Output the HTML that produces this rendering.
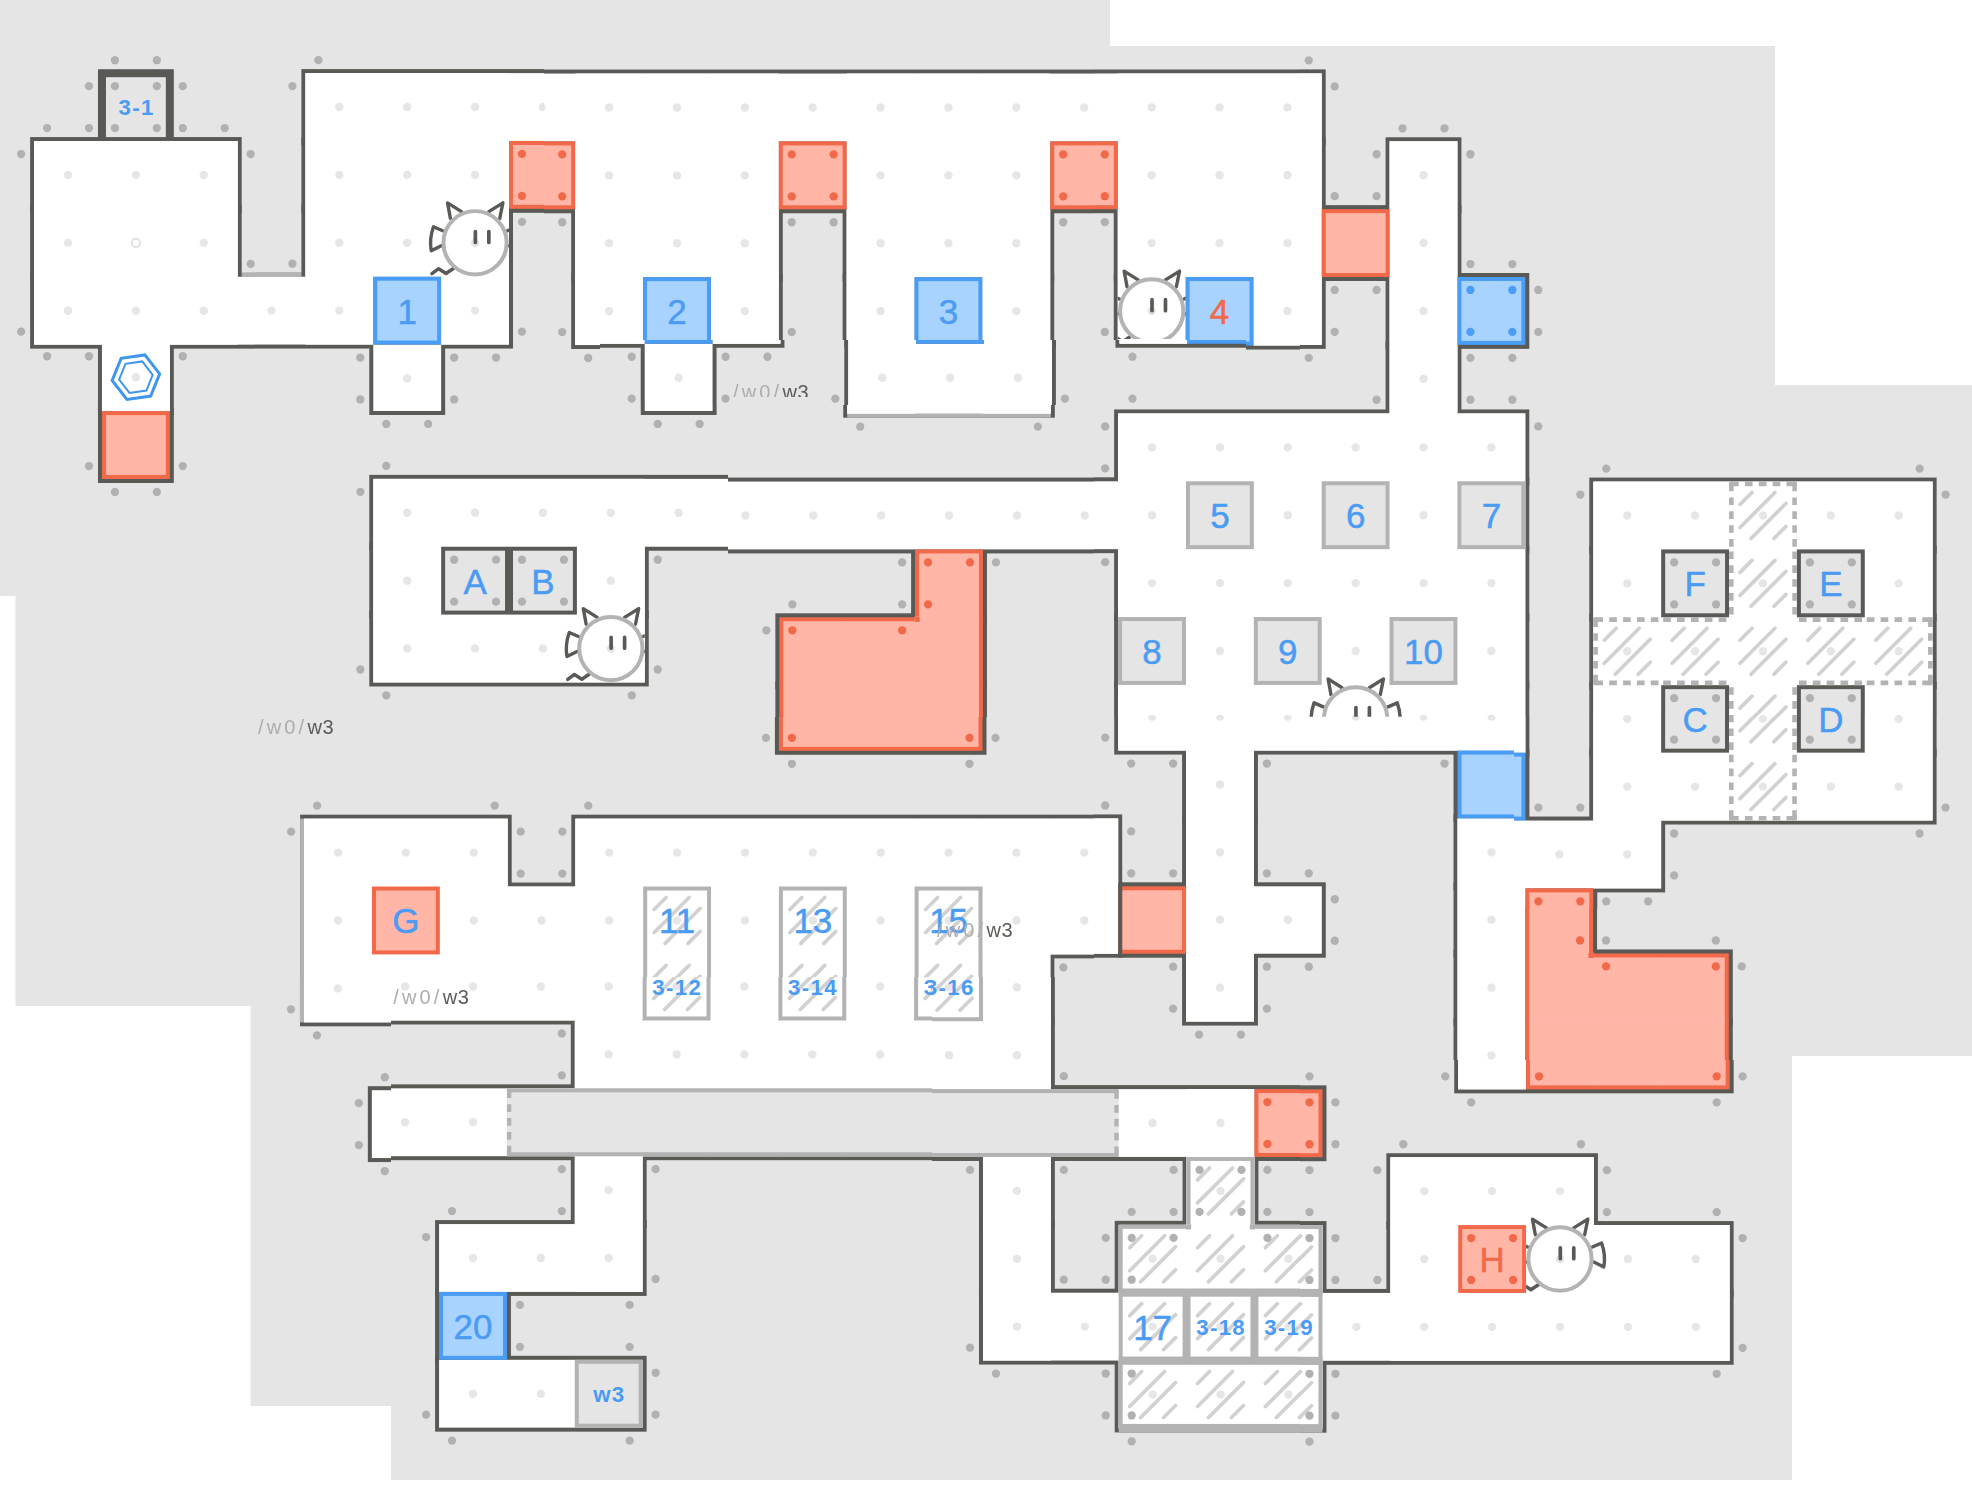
<!DOCTYPE html>
<html lang="en"><head><meta charset="utf-8"><title>World 3 map</title>
<style>html,body{margin:0;padding:0;background:#fff}svg{display:block}</style></head>
<body>
<svg width="1972" height="1486" viewBox="0 0 1972 1486">
<defs>
<g id="cat" fill="none" stroke="#595956" stroke-width="3.4" stroke-linejoin="round" stroke-linecap="round"><path d="M-24.7 -24.3L-27.6 -40L-13.6 -31.2M13.8 -31.2L27.9 -40L24.7 -24.3"/><path d="M-32.4 -12L-41.7 -16Q-46 -4 -43.9 8L-33.9 2.9"/><path d="M32.4 -12L41.7 -16Q46 -4 43.9 8L33.9 2.9"/><path d="M-43.2 31L-36.5 26L-29.1 30.8L-21.7 25.8"/><circle r="31.7" fill="none" stroke="#b3b3b3" stroke-width="4"/><path stroke-width="3.7" d="M0.3 -11.3V-0.3M13.8 -11.3V-0.3"/></g>
<clipPath id="cc0"><rect x="402" y="169" width="108" height="148"/></clipPath>
<clipPath id="cc1"><rect x="1122" y="237" width="68" height="102"/></clipPath>
<clipPath id="cc2"><rect x="538" y="577" width="108" height="108"/></clipPath>
<clipPath id="cc3"><rect x="1286" y="645" width="148" height="72"/></clipPath>
<clipPath id="cc4"><rect x="1530" y="1189" width="128" height="148"/></clipPath>
<g id="m">
<g fill="#595956">
<rect x="302" y="69" width="1028" height="76"/>
<rect x="30" y="137" width="212" height="76"/>
<rect x="302" y="137" width="1028" height="76"/>
<rect x="1390" y="137" width="76" height="76"/>
<rect x="30" y="205" width="212" height="76"/>
<rect x="302" y="205" width="212" height="76"/>
<rect x="574" y="205" width="212" height="76"/>
<rect x="846" y="205" width="212" height="76"/>
<rect x="1118" y="205" width="348" height="76"/>
<rect x="30" y="273" width="484" height="76"/>
<rect x="574" y="273" width="212" height="76"/>
<rect x="846" y="273" width="212" height="76"/>
<rect x="1118" y="273" width="212" height="76"/>
<rect x="1390" y="273" width="144" height="76"/>
<rect x="98" y="341" width="76" height="76"/>
<rect x="370" y="341" width="76" height="76"/>
<rect x="642" y="341" width="76" height="76"/>
<rect x="846" y="341" width="212" height="76"/>
<rect x="1390" y="341" width="76" height="76"/>
<rect x="98" y="409" width="76" height="76"/>
<rect x="1118" y="409" width="416" height="76"/>
<rect x="370" y="477" width="1164" height="76"/>
<rect x="1594" y="477" width="348" height="76"/>
<rect x="370" y="545" width="280" height="76"/>
<rect x="914" y="545" width="76" height="76"/>
<rect x="1118" y="545" width="416" height="76"/>
<rect x="1594" y="545" width="348" height="76"/>
<rect x="370" y="613" width="280" height="76"/>
<rect x="778" y="613" width="212" height="76"/>
<rect x="1118" y="613" width="416" height="76"/>
<rect x="1594" y="613" width="348" height="76"/>
<rect x="778" y="681" width="212" height="76"/>
<rect x="1118" y="681" width="416" height="76"/>
<rect x="1594" y="681" width="348" height="76"/>
<rect x="1186" y="749" width="76" height="76"/>
<rect x="1458" y="749" width="76" height="76"/>
<rect x="1594" y="749" width="348" height="76"/>
<rect x="302" y="817" width="212" height="76"/>
<rect x="574" y="817" width="552" height="76"/>
<rect x="1186" y="817" width="76" height="76"/>
<rect x="1458" y="817" width="212" height="76"/>
<rect x="302" y="885" width="1028" height="76"/>
<rect x="1458" y="885" width="144" height="76"/>
<rect x="302" y="953" width="756" height="76"/>
<rect x="1186" y="953" width="76" height="76"/>
<rect x="1458" y="953" width="280" height="76"/>
<rect x="574" y="1021" width="484" height="76"/>
<rect x="1458" y="1021" width="280" height="76"/>
<rect x="370" y="1089" width="960" height="76"/>
<rect x="574" y="1157" width="76" height="76"/>
<rect x="982" y="1157" width="76" height="76"/>
<rect x="1186" y="1157" width="76" height="76"/>
<rect x="1390" y="1157" width="212" height="76"/>
<rect x="438" y="1225" width="212" height="76"/>
<rect x="982" y="1225" width="76" height="76"/>
<rect x="1118" y="1225" width="212" height="76"/>
<rect x="1390" y="1225" width="348" height="76"/>
<rect x="438" y="1293" width="76" height="76"/>
<rect x="982" y="1293" width="756" height="76"/>
<rect x="438" y="1361" width="212" height="76"/>
<rect x="1118" y="1361" width="212" height="76"/>
</g>
<rect x="102" y="73" width="68" height="68" fill="#e5e5e5" stroke="#595956" stroke-width="8"/>
<rect x="242" y="273" width="60" height="4" fill="#b3b3b3"/>
<rect x="850" y="413" width="204" height="4" fill="#b3b3b3"/>
<rect x="302" y="821" width="4" height="204" fill="#b3b3b3"/>
<rect x="1122" y="1433" width="204" height="4" fill="#b3b3b3"/>
<g fill="#fff">
<rect x="306" y="73" width="1020" height="68"/>
<rect x="34" y="141" width="204" height="68"/>
<rect x="306" y="141" width="204" height="68"/>
<rect x="578" y="141" width="204" height="68"/>
<rect x="850" y="141" width="204" height="68"/>
<rect x="1122" y="141" width="204" height="68"/>
<rect x="1394" y="141" width="68" height="68"/>
<rect x="34" y="209" width="204" height="68"/>
<rect x="306" y="209" width="204" height="68"/>
<rect x="578" y="209" width="204" height="68"/>
<rect x="850" y="209" width="204" height="68"/>
<rect x="1122" y="209" width="204" height="68"/>
<rect x="1394" y="209" width="68" height="68"/>
<rect x="34" y="277" width="340" height="68"/>
<rect x="442" y="277" width="68" height="68"/>
<rect x="578" y="277" width="68" height="68"/>
<rect x="714" y="277" width="68" height="68"/>
<rect x="850" y="277" width="68" height="68"/>
<rect x="986" y="277" width="68" height="68"/>
<rect x="1122" y="277" width="68" height="68"/>
<rect x="1258" y="277" width="68" height="68"/>
<rect x="1394" y="277" width="68" height="68"/>
<rect x="102" y="345" width="68" height="68"/>
<rect x="374" y="345" width="68" height="68"/>
<rect x="646" y="345" width="68" height="68"/>
<rect x="850" y="345" width="204" height="68"/>
<rect x="1394" y="345" width="68" height="68"/>
<rect x="1122" y="413" width="408" height="68"/>
<rect x="374" y="481" width="1156" height="68"/>
<rect x="1598" y="481" width="340" height="68"/>
<rect x="374" y="549" width="272" height="68"/>
<rect x="1122" y="549" width="408" height="68"/>
<rect x="1598" y="549" width="340" height="68"/>
<rect x="374" y="617" width="272" height="68"/>
<rect x="1122" y="617" width="408" height="68"/>
<rect x="1598" y="617" width="340" height="68"/>
<rect x="1122" y="685" width="408" height="68"/>
<rect x="1598" y="685" width="340" height="68"/>
<rect x="1190" y="753" width="68" height="68"/>
<rect x="1598" y="753" width="340" height="68"/>
<rect x="306" y="821" width="204" height="68"/>
<rect x="578" y="821" width="544" height="68"/>
<rect x="1190" y="821" width="68" height="68"/>
<rect x="1462" y="821" width="204" height="68"/>
<rect x="306" y="889" width="816" height="68"/>
<rect x="1190" y="889" width="136" height="68"/>
<rect x="1462" y="889" width="68" height="68"/>
<rect x="306" y="957" width="748" height="68"/>
<rect x="1190" y="957" width="68" height="68"/>
<rect x="1462" y="957" width="68" height="68"/>
<rect x="578" y="1025" width="476" height="68"/>
<rect x="1462" y="1025" width="68" height="68"/>
<rect x="374" y="1093" width="884" height="68"/>
<rect x="578" y="1161" width="68" height="68"/>
<rect x="986" y="1161" width="68" height="68"/>
<rect x="1190" y="1161" width="68" height="68"/>
<rect x="1394" y="1161" width="204" height="68"/>
<rect x="442" y="1229" width="204" height="68"/>
<rect x="986" y="1229" width="68" height="68"/>
<rect x="1122" y="1229" width="204" height="68"/>
<rect x="1394" y="1229" width="340" height="68"/>
<rect x="986" y="1297" width="748" height="68"/>
<rect x="442" y="1365" width="204" height="68"/>
<rect x="1122" y="1365" width="204" height="68"/>
<rect x="34" y="141" width="68" height="204"/>
<rect x="102" y="141" width="68" height="272"/>
<rect x="170" y="141" width="68" height="204"/>
<rect x="306" y="73" width="68" height="272"/>
<rect x="306" y="821" width="68" height="204"/>
<rect x="374" y="73" width="68" height="204"/>
<rect x="374" y="481" width="68" height="204"/>
<rect x="374" y="821" width="68" height="204"/>
<rect x="442" y="73" width="68" height="272"/>
<rect x="442" y="481" width="68" height="204"/>
<rect x="442" y="821" width="68" height="204"/>
<rect x="510" y="481" width="68" height="204"/>
<rect x="510" y="889" width="68" height="136"/>
<rect x="578" y="73" width="68" height="272"/>
<rect x="578" y="481" width="68" height="204"/>
<rect x="578" y="821" width="68" height="476"/>
<rect x="646" y="73" width="68" height="204"/>
<rect x="646" y="821" width="68" height="340"/>
<rect x="714" y="73" width="68" height="272"/>
<rect x="714" y="821" width="68" height="340"/>
<rect x="782" y="821" width="68" height="340"/>
<rect x="850" y="73" width="68" height="340"/>
<rect x="850" y="821" width="68" height="340"/>
<rect x="918" y="73" width="68" height="204"/>
<rect x="918" y="821" width="68" height="340"/>
<rect x="986" y="73" width="68" height="340"/>
<rect x="986" y="821" width="68" height="544"/>
<rect x="1054" y="821" width="68" height="136"/>
<rect x="1122" y="73" width="68" height="272"/>
<rect x="1122" y="413" width="68" height="340"/>
<rect x="1122" y="1229" width="68" height="204"/>
<rect x="1190" y="73" width="68" height="204"/>
<rect x="1190" y="413" width="68" height="612"/>
<rect x="1190" y="1093" width="68" height="340"/>
<rect x="1258" y="73" width="68" height="272"/>
<rect x="1258" y="413" width="68" height="340"/>
<rect x="1258" y="1229" width="68" height="204"/>
<rect x="1326" y="413" width="68" height="340"/>
<rect x="1394" y="141" width="68" height="612"/>
<rect x="1394" y="1161" width="68" height="204"/>
<rect x="1462" y="413" width="68" height="340"/>
<rect x="1462" y="821" width="68" height="272"/>
<rect x="1462" y="1161" width="68" height="204"/>
<rect x="1530" y="1161" width="68" height="204"/>
<rect x="1598" y="481" width="68" height="408"/>
<rect x="1598" y="1229" width="68" height="136"/>
<rect x="1666" y="481" width="68" height="340"/>
<rect x="1666" y="1229" width="68" height="136"/>
<rect x="1734" y="481" width="68" height="340"/>
<rect x="1802" y="481" width="68" height="340"/>
<rect x="1870" y="481" width="68" height="340"/>
</g>
<g fill="#f2694a">
<rect x="510" y="141" width="68" height="68"/>
<rect x="782" y="141" width="68" height="68"/>
<rect x="1054" y="141" width="68" height="68"/>
<rect x="1326" y="209" width="68" height="68"/>
<rect x="102" y="413" width="68" height="68"/>
<rect x="918" y="549" width="68" height="68.6"/>
<rect x="782" y="617" width="68.6" height="68.6"/>
<rect x="850" y="617" width="68.6" height="68.6"/>
<rect x="918" y="617" width="68" height="68.6"/>
<rect x="782" y="685" width="68.6" height="68"/>
<rect x="850" y="685" width="68.6" height="68"/>
<rect x="918" y="685" width="68" height="68"/>
<rect x="1122" y="889" width="68" height="68"/>
<rect x="1530" y="889" width="68" height="68.6"/>
<rect x="1530" y="957" width="68.6" height="68.6"/>
<rect x="1598" y="957" width="68.6" height="68.6"/>
<rect x="1666" y="957" width="68" height="68.6"/>
<rect x="1530" y="1025" width="68.6" height="68"/>
<rect x="1598" y="1025" width="68.6" height="68"/>
<rect x="1666" y="1025" width="68" height="68"/>
<rect x="1258" y="1093" width="68" height="68"/>
</g>
<g fill="#ffb6a7">
<rect x="514" y="145" width="60" height="60"/>
<rect x="786" y="145" width="60" height="60"/>
<rect x="1058" y="145" width="60" height="60"/>
<rect x="1330" y="213" width="60" height="60"/>
<rect x="106" y="417" width="60" height="60"/>
<rect x="922" y="553" width="60" height="64.6"/>
<rect x="786" y="621" width="64.6" height="64.6"/>
<rect x="849.4" y="621" width="69.2" height="64.6"/>
<rect x="917.4" y="616.4" width="64.6" height="69.2"/>
<rect x="786" y="684.4" width="64.6" height="64.6"/>
<rect x="849.4" y="684.4" width="69.2" height="64.6"/>
<rect x="917.4" y="684.4" width="64.6" height="64.6"/>
<rect x="1126" y="893" width="60" height="60"/>
<rect x="1534" y="893" width="60" height="64.6"/>
<rect x="1534" y="956.4" width="64.6" height="69.2"/>
<rect x="1597.4" y="961" width="69.2" height="64.6"/>
<rect x="1665.4" y="961" width="64.6" height="64.6"/>
<rect x="1534" y="1024.4" width="64.6" height="64.6"/>
<rect x="1597.4" y="1024.4" width="69.2" height="64.6"/>
<rect x="1665.4" y="1024.4" width="64.6" height="64.6"/>
<rect x="1262" y="1097" width="60" height="60"/>
</g>
<g fill="#f2694a">
<rect x="917.4" y="616.4" width="5.2" height="5.2"/>
<rect x="1593.4" y="956.4" width="5.2" height="5.2"/>
</g>
<g fill="#4a9df6">
<rect x="374" y="277" width="68" height="68"/>
<rect x="646" y="277" width="68" height="68"/>
<rect x="918" y="277" width="68" height="68"/>
<rect x="1190" y="277" width="68" height="68"/>
<rect x="1462" y="277" width="68" height="68"/>
<rect x="1462" y="753" width="68" height="68"/>
<rect x="442" y="1297" width="68" height="68"/>
</g>
<g fill="#a9d3ff">
<rect x="378" y="281" width="60" height="60"/>
<rect x="650" y="281" width="60" height="60"/>
<rect x="922" y="281" width="60" height="60"/>
<rect x="1194" y="281" width="60" height="60"/>
<rect x="1466" y="281" width="60" height="60"/>
<rect x="1466" y="757" width="60" height="60"/>
<rect x="446" y="1301" width="60" height="60"/>
</g>
<g fill="#4a9df6">
</g>
<rect x="1122" y="885" width="4" height="76" fill="#595956"/>
<g fill="#b3b3b3">
<rect x="1190" y="1161" width="68" height="68.6"/>
<rect x="1122" y="1229" width="68.6" height="68"/>
<rect x="1190" y="1229" width="68.6" height="68"/>
<rect x="1258" y="1229" width="68" height="68"/>
</g>
<g fill="#fff">
<rect x="1194" y="1165" width="60" height="64.6"/>
<rect x="1126" y="1233" width="64.6" height="60"/>
<rect x="1189.4" y="1228.4" width="69.2" height="64.6"/>
<rect x="1257.4" y="1233" width="64.6" height="60"/>
</g>
<g fill="#b3b3b3">
<rect x="1189.4" y="1228.4" width="5.2" height="5.2"/>
<rect x="1253.4" y="1228.4" width="5.2" height="5.2"/>
</g>
<g fill="#b3b3b3">
<rect x="1122" y="1365" width="68.6" height="68"/>
<rect x="1190" y="1365" width="68.6" height="68"/>
<rect x="1258" y="1365" width="68" height="68"/>
</g>
<g fill="#fff">
<rect x="1126" y="1369" width="64.6" height="60"/>
<rect x="1189.4" y="1369" width="69.2" height="60"/>
<rect x="1257.4" y="1369" width="64.6" height="60"/>
</g>
<g fill="#b3b3b3">
</g>
<path d="M1201 1184L1213 1172M1201 1207L1236 1172M1212 1218L1247 1183M1235 1218L1247 1206M1133 1252L1145 1240M1133 1275L1168 1240M1144 1286L1179 1251M1167 1286L1179 1274M1201 1252L1213 1240M1201 1275L1236 1240M1212 1286L1247 1251M1235 1286L1247 1274M1269 1252L1281 1240M1269 1275L1304 1240M1280 1286L1315 1251M1303 1286L1315 1274M1133 1320L1145 1308M1133 1343L1168 1308M1144 1354L1179 1319M1167 1354L1179 1342M1201 1320L1213 1308M1201 1343L1236 1308M1212 1354L1247 1319M1235 1354L1247 1342M1269 1320L1281 1308M1269 1343L1304 1308M1280 1354L1315 1319M1303 1354L1315 1342M1133 1388L1145 1376M1133 1411L1168 1376M1144 1422L1179 1387M1167 1422L1179 1410M1201 1388L1213 1376M1201 1411L1236 1376M1212 1422L1247 1387M1235 1422L1247 1410M1269 1388L1281 1376M1269 1411L1304 1376M1280 1422L1315 1387M1303 1422L1315 1410M1745 504L1757 492M1745 527L1780 492M1756 538L1791 503M1779 538L1791 526M1745 572L1757 560M1745 595L1780 560M1756 606L1791 571M1779 606L1791 594M1745 640L1757 628M1745 663L1780 628M1756 674L1791 639M1779 674L1791 662M1745 708L1757 696M1745 731L1780 696M1756 742L1791 707M1779 742L1791 730M1745 776L1757 764M1745 799L1780 764M1756 810L1791 775M1779 810L1791 798M1609 640L1621 628M1609 663L1644 628M1620 674L1655 639M1643 674L1655 662M1677 640L1689 628M1677 663L1712 628M1688 674L1723 639M1711 674L1723 662M1813 640L1825 628M1813 663L1848 628M1824 674L1859 639M1847 674L1859 662M1881 640L1893 628M1881 663L1916 628M1892 674L1927 639M1915 674L1927 662M657 912L669 900M657 935L692 900M668 946L703 911M691 946L703 934M657 980L669 968M657 1003L692 968M668 1014L703 979M691 1014L703 1002M793 912L805 900M793 935L828 900M804 946L839 911M827 946L839 934M793 980L805 968M793 1003L828 968M804 1014L839 979M827 1014L839 1002M929 912L941 900M929 935L964 900M940 946L975 911M963 946L975 934M929 980L941 968M929 1003L964 968M940 1014L975 979M963 1014L975 1002" stroke="#d1d1d1" stroke-width="3.7" stroke-linecap="round" fill="none"/>
<g fill="#e6e6e6">
<circle cx="68" cy="175" r="4.2"/>
<circle cx="68" cy="243" r="4.2"/>
<circle cx="68" cy="311" r="4.2"/>
<circle cx="136" cy="175" r="4.2"/>
<circle cx="136" cy="243" r="4.2"/>
<circle cx="136" cy="311" r="4.2"/>
<circle cx="204" cy="175" r="4.2"/>
<circle cx="204" cy="243" r="4.2"/>
<circle cx="204" cy="311" r="4.2"/>
<circle cx="272" cy="311" r="4.2"/>
<circle cx="340" cy="107" r="4.2"/>
<circle cx="340" cy="175" r="4.2"/>
<circle cx="340" cy="243" r="4.2"/>
<circle cx="340" cy="311" r="4.2"/>
<circle cx="340" cy="855" r="4.2"/>
<circle cx="340" cy="923" r="4.2"/>
<circle cx="340" cy="991" r="4.2"/>
<circle cx="408" cy="107" r="4.2"/>
<circle cx="408" cy="175" r="4.2"/>
<circle cx="408" cy="243" r="4.2"/>
<circle cx="408" cy="379" r="4.2"/>
<circle cx="408" cy="515" r="4.2"/>
<circle cx="408" cy="583" r="4.2"/>
<circle cx="408" cy="651" r="4.2"/>
<circle cx="408" cy="855" r="4.2"/>
<circle cx="408" cy="991" r="4.2"/>
<circle cx="408" cy="1127" r="4.2"/>
<circle cx="476" cy="107" r="4.2"/>
<circle cx="476" cy="175" r="4.2"/>
<circle cx="476" cy="243" r="4.2"/>
<circle cx="476" cy="311" r="4.2"/>
<circle cx="476" cy="515" r="4.2"/>
<circle cx="476" cy="651" r="4.2"/>
<circle cx="476" cy="855" r="4.2"/>
<circle cx="476" cy="923" r="4.2"/>
<circle cx="476" cy="991" r="4.2"/>
<circle cx="476" cy="1127" r="4.2"/>
<circle cx="476" cy="1263" r="4.2"/>
<circle cx="476" cy="1399" r="4.2"/>
<circle cx="544" cy="107" r="4.2"/>
<circle cx="544" cy="515" r="4.2"/>
<circle cx="544" cy="651" r="4.2"/>
<circle cx="544" cy="923" r="4.2"/>
<circle cx="544" cy="991" r="4.2"/>
<circle cx="544" cy="1263" r="4.2"/>
<circle cx="544" cy="1399" r="4.2"/>
<circle cx="612" cy="107" r="4.2"/>
<circle cx="612" cy="175" r="4.2"/>
<circle cx="612" cy="243" r="4.2"/>
<circle cx="612" cy="311" r="4.2"/>
<circle cx="612" cy="515" r="4.2"/>
<circle cx="612" cy="583" r="4.2"/>
<circle cx="612" cy="651" r="4.2"/>
<circle cx="612" cy="855" r="4.2"/>
<circle cx="612" cy="923" r="4.2"/>
<circle cx="612" cy="991" r="4.2"/>
<circle cx="612" cy="1059" r="4.2"/>
<circle cx="612" cy="1195" r="4.2"/>
<circle cx="612" cy="1263" r="4.2"/>
<circle cx="680" cy="107" r="4.2"/>
<circle cx="680" cy="175" r="4.2"/>
<circle cx="680" cy="243" r="4.2"/>
<circle cx="680" cy="379" r="4.2"/>
<circle cx="680" cy="515" r="4.2"/>
<circle cx="680" cy="855" r="4.2"/>
<circle cx="680" cy="923" r="4.2"/>
<circle cx="680" cy="991" r="4.2"/>
<circle cx="680" cy="1059" r="4.2"/>
<circle cx="748" cy="107" r="4.2"/>
<circle cx="748" cy="175" r="4.2"/>
<circle cx="748" cy="243" r="4.2"/>
<circle cx="748" cy="311" r="4.2"/>
<circle cx="748" cy="515" r="4.2"/>
<circle cx="748" cy="855" r="4.2"/>
<circle cx="748" cy="923" r="4.2"/>
<circle cx="748" cy="991" r="4.2"/>
<circle cx="748" cy="1059" r="4.2"/>
<circle cx="816" cy="107" r="4.2"/>
<circle cx="816" cy="515" r="4.2"/>
<circle cx="816" cy="855" r="4.2"/>
<circle cx="816" cy="923" r="4.2"/>
<circle cx="816" cy="991" r="4.2"/>
<circle cx="816" cy="1059" r="4.2"/>
<circle cx="884" cy="107" r="4.2"/>
<circle cx="884" cy="175" r="4.2"/>
<circle cx="884" cy="243" r="4.2"/>
<circle cx="884" cy="311" r="4.2"/>
<circle cx="884" cy="379" r="4.2"/>
<circle cx="884" cy="515" r="4.2"/>
<circle cx="884" cy="855" r="4.2"/>
<circle cx="884" cy="923" r="4.2"/>
<circle cx="884" cy="991" r="4.2"/>
<circle cx="884" cy="1059" r="4.2"/>
<circle cx="952" cy="107" r="4.2"/>
<circle cx="952" cy="175" r="4.2"/>
<circle cx="952" cy="243" r="4.2"/>
<circle cx="952" cy="379" r="4.2"/>
<circle cx="952" cy="515" r="4.2"/>
<circle cx="952" cy="855" r="4.2"/>
<circle cx="952" cy="923" r="4.2"/>
<circle cx="952" cy="991" r="4.2"/>
<circle cx="952" cy="1059" r="4.2"/>
<circle cx="1020" cy="107" r="4.2"/>
<circle cx="1020" cy="175" r="4.2"/>
<circle cx="1020" cy="243" r="4.2"/>
<circle cx="1020" cy="311" r="4.2"/>
<circle cx="1020" cy="379" r="4.2"/>
<circle cx="1020" cy="515" r="4.2"/>
<circle cx="1020" cy="855" r="4.2"/>
<circle cx="1020" cy="923" r="4.2"/>
<circle cx="1020" cy="991" r="4.2"/>
<circle cx="1020" cy="1059" r="4.2"/>
<circle cx="1020" cy="1195" r="4.2"/>
<circle cx="1020" cy="1263" r="4.2"/>
<circle cx="1020" cy="1331" r="4.2"/>
<circle cx="1088" cy="107" r="4.2"/>
<circle cx="1088" cy="515" r="4.2"/>
<circle cx="1088" cy="855" r="4.2"/>
<circle cx="1088" cy="923" r="4.2"/>
<circle cx="1088" cy="1331" r="4.2"/>
<circle cx="1156" cy="107" r="4.2"/>
<circle cx="1156" cy="175" r="4.2"/>
<circle cx="1156" cy="243" r="4.2"/>
<circle cx="1156" cy="311" r="4.2"/>
<circle cx="1156" cy="447" r="4.2"/>
<circle cx="1156" cy="515" r="4.2"/>
<circle cx="1156" cy="583" r="4.2"/>
<circle cx="1156" cy="719" r="4.2"/>
<circle cx="1156" cy="1127" r="4.2"/>
<circle cx="1156" cy="1263" r="4.2"/>
<circle cx="1156" cy="1331" r="4.2"/>
<circle cx="1156" cy="1399" r="4.2"/>
<circle cx="1224" cy="107" r="4.2"/>
<circle cx="1224" cy="175" r="4.2"/>
<circle cx="1224" cy="243" r="4.2"/>
<circle cx="1224" cy="447" r="4.2"/>
<circle cx="1224" cy="583" r="4.2"/>
<circle cx="1224" cy="651" r="4.2"/>
<circle cx="1224" cy="719" r="4.2"/>
<circle cx="1224" cy="787" r="4.2"/>
<circle cx="1224" cy="855" r="4.2"/>
<circle cx="1224" cy="923" r="4.2"/>
<circle cx="1224" cy="991" r="4.2"/>
<circle cx="1224" cy="1127" r="4.2"/>
<circle cx="1224" cy="1195" r="4.2"/>
<circle cx="1224" cy="1263" r="4.2"/>
<circle cx="1224" cy="1331" r="4.2"/>
<circle cx="1224" cy="1399" r="4.2"/>
<circle cx="1292" cy="107" r="4.2"/>
<circle cx="1292" cy="175" r="4.2"/>
<circle cx="1292" cy="243" r="4.2"/>
<circle cx="1292" cy="311" r="4.2"/>
<circle cx="1292" cy="447" r="4.2"/>
<circle cx="1292" cy="515" r="4.2"/>
<circle cx="1292" cy="583" r="4.2"/>
<circle cx="1292" cy="719" r="4.2"/>
<circle cx="1292" cy="923" r="4.2"/>
<circle cx="1292" cy="1263" r="4.2"/>
<circle cx="1292" cy="1331" r="4.2"/>
<circle cx="1292" cy="1399" r="4.2"/>
<circle cx="1360" cy="447" r="4.2"/>
<circle cx="1360" cy="583" r="4.2"/>
<circle cx="1360" cy="651" r="4.2"/>
<circle cx="1360" cy="719" r="4.2"/>
<circle cx="1360" cy="1331" r="4.2"/>
<circle cx="1428" cy="175" r="4.2"/>
<circle cx="1428" cy="243" r="4.2"/>
<circle cx="1428" cy="311" r="4.2"/>
<circle cx="1428" cy="379" r="4.2"/>
<circle cx="1428" cy="447" r="4.2"/>
<circle cx="1428" cy="515" r="4.2"/>
<circle cx="1428" cy="583" r="4.2"/>
<circle cx="1428" cy="719" r="4.2"/>
<circle cx="1428" cy="1195" r="4.2"/>
<circle cx="1428" cy="1263" r="4.2"/>
<circle cx="1428" cy="1331" r="4.2"/>
<circle cx="1496" cy="447" r="4.2"/>
<circle cx="1496" cy="583" r="4.2"/>
<circle cx="1496" cy="651" r="4.2"/>
<circle cx="1496" cy="719" r="4.2"/>
<circle cx="1496" cy="855" r="4.2"/>
<circle cx="1496" cy="923" r="4.2"/>
<circle cx="1496" cy="991" r="4.2"/>
<circle cx="1496" cy="1059" r="4.2"/>
<circle cx="1496" cy="1195" r="4.2"/>
<circle cx="1496" cy="1331" r="4.2"/>
<circle cx="1564" cy="855" r="4.2"/>
<circle cx="1564" cy="1195" r="4.2"/>
<circle cx="1564" cy="1263" r="4.2"/>
<circle cx="1564" cy="1331" r="4.2"/>
<circle cx="1632" cy="515" r="4.2"/>
<circle cx="1632" cy="583" r="4.2"/>
<circle cx="1632" cy="651" r="4.2"/>
<circle cx="1632" cy="719" r="4.2"/>
<circle cx="1632" cy="787" r="4.2"/>
<circle cx="1632" cy="855" r="4.2"/>
<circle cx="1632" cy="1263" r="4.2"/>
<circle cx="1632" cy="1331" r="4.2"/>
<circle cx="1700" cy="515" r="4.2"/>
<circle cx="1700" cy="651" r="4.2"/>
<circle cx="1700" cy="787" r="4.2"/>
<circle cx="1700" cy="1263" r="4.2"/>
<circle cx="1700" cy="1331" r="4.2"/>
<circle cx="1768" cy="515" r="4.2"/>
<circle cx="1768" cy="583" r="4.2"/>
<circle cx="1768" cy="651" r="4.2"/>
<circle cx="1768" cy="719" r="4.2"/>
<circle cx="1768" cy="787" r="4.2"/>
<circle cx="1836" cy="515" r="4.2"/>
<circle cx="1836" cy="651" r="4.2"/>
<circle cx="1836" cy="787" r="4.2"/>
<circle cx="1904" cy="515" r="4.2"/>
<circle cx="1904" cy="583" r="4.2"/>
<circle cx="1904" cy="651" r="4.2"/>
<circle cx="1904" cy="719" r="4.2"/>
<circle cx="1904" cy="787" r="4.2"/>
</g>
<circle cx="136" cy="243" r="4.2" fill="#fff" stroke="#dedede" stroke-width="1.7"/>
<circle cx="136" cy="379" r="4.2" fill="#e6e6e6"/>
<g clip-path="url(#cc0)"><use href="#cat" x="476" y="243"/></g>
<g clip-path="url(#cc1)"><use href="#cat" x="1156" y="311"/></g>
<g clip-path="url(#cc2)"><use href="#cat" x="612" y="651"/></g>
<g clip-path="url(#cc3)"><use href="#cat" x="1360" y="719"/></g>
<g clip-path="url(#cc4)"><use href="#cat" x="1564" y="1263"/></g>
<rect x="1192" y="483" width="64" height="64" fill="#e5e5e5" stroke="#b3b3b3" stroke-width="4"/>
<rect x="1328" y="483" width="64" height="64" fill="#e5e5e5" stroke="#b3b3b3" stroke-width="4"/>
<rect x="1464" y="483" width="64" height="64" fill="#e5e5e5" stroke="#b3b3b3" stroke-width="4"/>
<rect x="1124" y="619" width="64" height="64" fill="#e5e5e5" stroke="#b3b3b3" stroke-width="4"/>
<rect x="1260" y="619" width="64" height="64" fill="#e5e5e5" stroke="#b3b3b3" stroke-width="4"/>
<rect x="1396" y="619" width="64" height="64" fill="#e5e5e5" stroke="#b3b3b3" stroke-width="4"/>
<rect x="580" y="1367" width="64" height="64" fill="#e5e5e5" stroke="#b3b3b3" stroke-width="4"/>
<rect x="444" y="551" width="64" height="64" fill="#e5e5e5" stroke="#595956" stroke-width="4"/>
<rect x="512" y="551" width="64" height="64" fill="#e5e5e5" stroke="#595956" stroke-width="4"/>
<rect x="1668" y="551" width="64" height="64" fill="#e5e5e5" stroke="#595956" stroke-width="4"/>
<rect x="1804" y="551" width="64" height="64" fill="#e5e5e5" stroke="#595956" stroke-width="4"/>
<rect x="1668" y="687" width="64" height="64" fill="#e5e5e5" stroke="#595956" stroke-width="4"/>
<rect x="1804" y="687" width="64" height="64" fill="#e5e5e5" stroke="#595956" stroke-width="4"/>
<rect x="376" y="891" width="64" height="64" fill="#ffb6a7" stroke="#f2694a" stroke-width="4"/>
<rect x="1464" y="1231" width="64" height="64" fill="#ffb6a7" stroke="#f2694a" stroke-width="4"/>
<rect x="510" y="1093" width="612" height="68" fill="#e5e5e5"/>
<rect x="510" y="1093" width="612" height="4" fill="#b3b3b3"/>
<rect x="510" y="1157" width="612" height="4" fill="#b3b3b3"/>
<path d="M512.2 1093V1161M1119.8 1093V1161" stroke="#b3b3b3" stroke-width="4.4" stroke-dasharray="7.7 6.2" stroke-dashoffset="-2" fill="none"/>
<rect x="648" y="891" width="64" height="132" fill="none" stroke="#b3b3b3" stroke-width="4"/>
<rect x="784" y="891" width="64" height="132" fill="none" stroke="#b3b3b3" stroke-width="4"/>
<rect x="920" y="891" width="64" height="132" fill="none" stroke="#b3b3b3" stroke-width="4"/>
<rect x="1122" y="1293" width="204" height="8" fill="#b3b3b3"/>
<rect x="1122" y="1361" width="204" height="8" fill="#b3b3b3"/>
<rect x="1122" y="1297" width="4" height="68" fill="#b3b3b3"/>
<rect x="1322" y="1297" width="4" height="68" fill="#b3b3b3"/>
<rect x="1186" y="1297" width="8" height="68" fill="#b3b3b3"/>
<rect x="1254" y="1297" width="8" height="68" fill="#b3b3b3"/>
<rect x="1122" y="1428.5" width="204" height="5" fill="#b3b3b3"/>
<g fill="#b3b3b3">
<rect x="1598" y="617" width="4.6" height="4.6"/>
<rect x="1598" y="680.4" width="4.6" height="4.6"/>
<rect x="1734" y="481" width="4.6" height="4.6"/>
<rect x="1797.4" y="481" width="4.6" height="4.6"/>
<rect x="1734" y="816.4" width="4.6" height="4.6"/>
<rect x="1797.4" y="816.4" width="4.6" height="4.6"/>
<rect x="1933.4" y="617" width="4.6" height="4.6"/>
<rect x="1933.4" y="680.4" width="4.6" height="4.6"/>
</g>
<path d="M1598 619.3H1666M1598 682.7H1666M1600.3 617V685M1666 619.3H1734M1666 682.7H1734M1734 483.3H1802M1736.3 481V549M1799.7 481V549M1736.3 549V617M1799.7 549V617M1736.3 685V753M1799.7 685V753M1734 818.7H1802M1736.3 753V821M1799.7 753V821M1802 619.3H1870M1802 682.7H1870M1870 619.3H1938M1870 682.7H1938M1935.7 617V685" stroke="#b3b3b3" stroke-width="4.6" stroke-dasharray="7.7 6.2" stroke-dashoffset="-2" fill="none"/>
<g fill="#b1b1b1">
<circle cx="21" cy="154" r="4.15"/>
<circle cx="21" cy="332" r="4.15"/>
<circle cx="47" cy="128" r="4.15"/>
<circle cx="47" cy="358" r="4.15"/>
<circle cx="89" cy="86" r="4.15"/>
<circle cx="89" cy="128" r="4.15"/>
<circle cx="89" cy="358" r="4.15"/>
<circle cx="89" cy="468" r="4.15"/>
<circle cx="115" cy="60" r="4.15"/>
<circle cx="115" cy="494" r="4.15"/>
<circle cx="157" cy="60" r="4.15"/>
<circle cx="157" cy="494" r="4.15"/>
<circle cx="183" cy="86" r="4.15"/>
<circle cx="183" cy="128" r="4.15"/>
<circle cx="183" cy="358" r="4.15"/>
<circle cx="183" cy="468" r="4.15"/>
<circle cx="225" cy="128" r="4.15"/>
<circle cx="251" cy="154" r="4.15"/>
<circle cx="251" cy="264" r="4.15"/>
<circle cx="293" cy="86" r="4.15"/>
<circle cx="293" cy="264" r="4.15"/>
<circle cx="293" cy="834" r="4.15"/>
<circle cx="293" cy="1012" r="4.15"/>
<circle cx="319" cy="60" r="4.15"/>
<circle cx="319" cy="808" r="4.15"/>
<circle cx="319" cy="1038" r="4.15"/>
<circle cx="361" cy="358" r="4.15"/>
<circle cx="361" cy="400" r="4.15"/>
<circle cx="361" cy="494" r="4.15"/>
<circle cx="361" cy="672" r="4.15"/>
<circle cx="361" cy="1106" r="4.15"/>
<circle cx="361" cy="1148" r="4.15"/>
<circle cx="387" cy="426" r="4.15"/>
<circle cx="387" cy="468" r="4.15"/>
<circle cx="387" cy="698" r="4.15"/>
<circle cx="387" cy="1080" r="4.15"/>
<circle cx="387" cy="1174" r="4.15"/>
<circle cx="429" cy="426" r="4.15"/>
<circle cx="429" cy="1242" r="4.15"/>
<circle cx="429" cy="1420" r="4.15"/>
<circle cx="455" cy="358" r="4.15"/>
<circle cx="455" cy="400" r="4.15"/>
<circle cx="455" cy="1216" r="4.15"/>
<circle cx="455" cy="1446" r="4.15"/>
<circle cx="497" cy="358" r="4.15"/>
<circle cx="497" cy="808" r="4.15"/>
<circle cx="523" cy="222" r="4.15"/>
<circle cx="523" cy="332" r="4.15"/>
<circle cx="523" cy="834" r="4.15"/>
<circle cx="523" cy="876" r="4.15"/>
<circle cx="523" cy="1310" r="4.15"/>
<circle cx="523" cy="1352" r="4.15"/>
<circle cx="565" cy="222" r="4.15"/>
<circle cx="565" cy="332" r="4.15"/>
<circle cx="565" cy="834" r="4.15"/>
<circle cx="565" cy="876" r="4.15"/>
<circle cx="565" cy="1038" r="4.15"/>
<circle cx="565" cy="1080" r="4.15"/>
<circle cx="565" cy="1174" r="4.15"/>
<circle cx="565" cy="1216" r="4.15"/>
<circle cx="591" cy="358" r="4.15"/>
<circle cx="591" cy="808" r="4.15"/>
<circle cx="633" cy="358" r="4.15"/>
<circle cx="633" cy="400" r="4.15"/>
<circle cx="633" cy="698" r="4.15"/>
<circle cx="633" cy="1310" r="4.15"/>
<circle cx="633" cy="1352" r="4.15"/>
<circle cx="633" cy="1446" r="4.15"/>
<circle cx="659" cy="426" r="4.15"/>
<circle cx="659" cy="562" r="4.15"/>
<circle cx="659" cy="672" r="4.15"/>
<circle cx="659" cy="1174" r="4.15"/>
<circle cx="659" cy="1284" r="4.15"/>
<circle cx="659" cy="1378" r="4.15"/>
<circle cx="659" cy="1420" r="4.15"/>
<circle cx="701" cy="426" r="4.15"/>
<circle cx="727" cy="358" r="4.15"/>
<circle cx="727" cy="400" r="4.15"/>
<circle cx="769" cy="358" r="4.15"/>
<circle cx="769" cy="630" r="4.15"/>
<circle cx="769" cy="740" r="4.15"/>
<circle cx="795" cy="222" r="4.15"/>
<circle cx="795" cy="332" r="4.15"/>
<circle cx="795" cy="604" r="4.15"/>
<circle cx="795" cy="766" r="4.15"/>
<circle cx="837" cy="222" r="4.15"/>
<circle cx="837" cy="400" r="4.15"/>
<circle cx="863" cy="426" r="4.15"/>
<circle cx="905" cy="562" r="4.15"/>
<circle cx="905" cy="604" r="4.15"/>
<circle cx="973" cy="766" r="4.15"/>
<circle cx="973" cy="1174" r="4.15"/>
<circle cx="973" cy="1352" r="4.15"/>
<circle cx="999" cy="562" r="4.15"/>
<circle cx="999" cy="740" r="4.15"/>
<circle cx="999" cy="1378" r="4.15"/>
<circle cx="1041" cy="426" r="4.15"/>
<circle cx="1067" cy="222" r="4.15"/>
<circle cx="1067" cy="400" r="4.15"/>
<circle cx="1067" cy="970" r="4.15"/>
<circle cx="1067" cy="1080" r="4.15"/>
<circle cx="1067" cy="1174" r="4.15"/>
<circle cx="1067" cy="1284" r="4.15"/>
<circle cx="1109" cy="222" r="4.15"/>
<circle cx="1109" cy="332" r="4.15"/>
<circle cx="1109" cy="426" r="4.15"/>
<circle cx="1109" cy="468" r="4.15"/>
<circle cx="1109" cy="562" r="4.15"/>
<circle cx="1109" cy="740" r="4.15"/>
<circle cx="1109" cy="808" r="4.15"/>
<circle cx="1109" cy="1242" r="4.15"/>
<circle cx="1109" cy="1284" r="4.15"/>
<circle cx="1109" cy="1378" r="4.15"/>
<circle cx="1109" cy="1420" r="4.15"/>
<circle cx="1135" cy="358" r="4.15"/>
<circle cx="1135" cy="400" r="4.15"/>
<circle cx="1135" cy="766" r="4.15"/>
<circle cx="1135" cy="834" r="4.15"/>
<circle cx="1135" cy="876" r="4.15"/>
<circle cx="1135" cy="1216" r="4.15"/>
<circle cx="1135" cy="1446" r="4.15"/>
<circle cx="1177" cy="766" r="4.15"/>
<circle cx="1177" cy="876" r="4.15"/>
<circle cx="1177" cy="970" r="4.15"/>
<circle cx="1177" cy="1012" r="4.15"/>
<circle cx="1177" cy="1174" r="4.15"/>
<circle cx="1177" cy="1216" r="4.15"/>
<circle cx="1203" cy="1038" r="4.15"/>
<circle cx="1245" cy="1038" r="4.15"/>
<circle cx="1271" cy="766" r="4.15"/>
<circle cx="1271" cy="876" r="4.15"/>
<circle cx="1271" cy="970" r="4.15"/>
<circle cx="1271" cy="1012" r="4.15"/>
<circle cx="1271" cy="1174" r="4.15"/>
<circle cx="1271" cy="1216" r="4.15"/>
<circle cx="1313" cy="60" r="4.15"/>
<circle cx="1313" cy="358" r="4.15"/>
<circle cx="1313" cy="876" r="4.15"/>
<circle cx="1313" cy="970" r="4.15"/>
<circle cx="1313" cy="1080" r="4.15"/>
<circle cx="1313" cy="1174" r="4.15"/>
<circle cx="1313" cy="1216" r="4.15"/>
<circle cx="1313" cy="1446" r="4.15"/>
<circle cx="1339" cy="86" r="4.15"/>
<circle cx="1339" cy="196" r="4.15"/>
<circle cx="1339" cy="290" r="4.15"/>
<circle cx="1339" cy="332" r="4.15"/>
<circle cx="1339" cy="902" r="4.15"/>
<circle cx="1339" cy="944" r="4.15"/>
<circle cx="1339" cy="1106" r="4.15"/>
<circle cx="1339" cy="1148" r="4.15"/>
<circle cx="1339" cy="1242" r="4.15"/>
<circle cx="1339" cy="1284" r="4.15"/>
<circle cx="1339" cy="1378" r="4.15"/>
<circle cx="1339" cy="1420" r="4.15"/>
<circle cx="1381" cy="154" r="4.15"/>
<circle cx="1381" cy="196" r="4.15"/>
<circle cx="1381" cy="290" r="4.15"/>
<circle cx="1381" cy="400" r="4.15"/>
<circle cx="1381" cy="1174" r="4.15"/>
<circle cx="1381" cy="1284" r="4.15"/>
<circle cx="1407" cy="128" r="4.15"/>
<circle cx="1407" cy="1148" r="4.15"/>
<circle cx="1449" cy="128" r="4.15"/>
<circle cx="1449" cy="766" r="4.15"/>
<circle cx="1449" cy="1080" r="4.15"/>
<circle cx="1475" cy="154" r="4.15"/>
<circle cx="1475" cy="264" r="4.15"/>
<circle cx="1475" cy="358" r="4.15"/>
<circle cx="1475" cy="400" r="4.15"/>
<circle cx="1475" cy="1106" r="4.15"/>
<circle cx="1517" cy="264" r="4.15"/>
<circle cx="1517" cy="358" r="4.15"/>
<circle cx="1517" cy="400" r="4.15"/>
<circle cx="1543" cy="290" r="4.15"/>
<circle cx="1543" cy="332" r="4.15"/>
<circle cx="1543" cy="426" r="4.15"/>
<circle cx="1543" cy="808" r="4.15"/>
<circle cx="1585" cy="494" r="4.15"/>
<circle cx="1585" cy="808" r="4.15"/>
<circle cx="1585" cy="1148" r="4.15"/>
<circle cx="1611" cy="468" r="4.15"/>
<circle cx="1611" cy="902" r="4.15"/>
<circle cx="1611" cy="944" r="4.15"/>
<circle cx="1611" cy="1174" r="4.15"/>
<circle cx="1611" cy="1216" r="4.15"/>
<circle cx="1653" cy="902" r="4.15"/>
<circle cx="1679" cy="834" r="4.15"/>
<circle cx="1679" cy="876" r="4.15"/>
<circle cx="1721" cy="944" r="4.15"/>
<circle cx="1721" cy="1106" r="4.15"/>
<circle cx="1721" cy="1216" r="4.15"/>
<circle cx="1721" cy="1378" r="4.15"/>
<circle cx="1747" cy="970" r="4.15"/>
<circle cx="1747" cy="1080" r="4.15"/>
<circle cx="1747" cy="1242" r="4.15"/>
<circle cx="1747" cy="1352" r="4.15"/>
<circle cx="1925" cy="468" r="4.15"/>
<circle cx="1925" cy="834" r="4.15"/>
<circle cx="1951" cy="494" r="4.15"/>
<circle cx="1951" cy="808" r="4.15"/>
<circle cx="115" cy="86" r="4.15"/>
<circle cx="115" cy="128" r="4.15"/>
<circle cx="157" cy="86" r="4.15"/>
<circle cx="157" cy="128" r="4.15"/>
<circle cx="455" cy="562" r="4.15"/>
<circle cx="455" cy="604" r="4.15"/>
<circle cx="497" cy="562" r="4.15"/>
<circle cx="497" cy="604" r="4.15"/>
<circle cx="523" cy="562" r="4.15"/>
<circle cx="523" cy="604" r="4.15"/>
<circle cx="565" cy="562" r="4.15"/>
<circle cx="565" cy="604" r="4.15"/>
<circle cx="1679" cy="562" r="4.15"/>
<circle cx="1679" cy="604" r="4.15"/>
<circle cx="1721" cy="562" r="4.15"/>
<circle cx="1721" cy="604" r="4.15"/>
<circle cx="1815" cy="562" r="4.15"/>
<circle cx="1815" cy="604" r="4.15"/>
<circle cx="1857" cy="562" r="4.15"/>
<circle cx="1857" cy="604" r="4.15"/>
<circle cx="1679" cy="698" r="4.15"/>
<circle cx="1679" cy="740" r="4.15"/>
<circle cx="1721" cy="698" r="4.15"/>
<circle cx="1721" cy="740" r="4.15"/>
<circle cx="1815" cy="698" r="4.15"/>
<circle cx="1815" cy="740" r="4.15"/>
<circle cx="1857" cy="698" r="4.15"/>
<circle cx="1857" cy="740" r="4.15"/>
<circle cx="1135" cy="1242" r="4.15"/>
<circle cx="1135" cy="1284" r="4.15"/>
<circle cx="1177" cy="1242" r="4.15"/>
<circle cx="1203" cy="1174" r="4.15"/>
<circle cx="1203" cy="1216" r="4.15"/>
<circle cx="1245" cy="1174" r="4.15"/>
<circle cx="1245" cy="1216" r="4.15"/>
<circle cx="1271" cy="1242" r="4.15"/>
<circle cx="1313" cy="1242" r="4.15"/>
<circle cx="1313" cy="1284" r="4.15"/>
<circle cx="1135" cy="1378" r="4.15"/>
<circle cx="1135" cy="1420" r="4.15"/>
<circle cx="1313" cy="1378" r="4.15"/>
<circle cx="1313" cy="1420" r="4.15"/>
</g>
<g fill="#f2694a">
<circle cx="1543" cy="902" r="4.15"/>
<circle cx="1543" cy="1080" r="4.15"/>
<circle cx="1585" cy="902" r="4.15"/>
<circle cx="1585" cy="944" r="4.15"/>
<circle cx="1611" cy="970" r="4.15"/>
<circle cx="1721" cy="970" r="4.15"/>
<circle cx="1721" cy="1080" r="4.15"/>
<circle cx="795" cy="630" r="4.15"/>
<circle cx="795" cy="740" r="4.15"/>
<circle cx="905" cy="630" r="4.15"/>
<circle cx="931" cy="562" r="4.15"/>
<circle cx="931" cy="604" r="4.15"/>
<circle cx="973" cy="562" r="4.15"/>
<circle cx="973" cy="740" r="4.15"/>
<circle cx="1271" cy="1106" r="4.15"/>
<circle cx="1271" cy="1148" r="4.15"/>
<circle cx="1313" cy="1106" r="4.15"/>
<circle cx="1313" cy="1148" r="4.15"/>
<circle cx="1067" cy="154" r="4.15"/>
<circle cx="1067" cy="196" r="4.15"/>
<circle cx="1109" cy="154" r="4.15"/>
<circle cx="1109" cy="196" r="4.15"/>
<circle cx="795" cy="154" r="4.15"/>
<circle cx="795" cy="196" r="4.15"/>
<circle cx="837" cy="154" r="4.15"/>
<circle cx="837" cy="196" r="4.15"/>
<circle cx="523" cy="154" r="4.15"/>
<circle cx="523" cy="196" r="4.15"/>
<circle cx="565" cy="154" r="4.15"/>
<circle cx="565" cy="196" r="4.15"/>
<circle cx="1475" cy="1242" r="4.15"/>
<circle cx="1475" cy="1284" r="4.15"/>
<circle cx="1517" cy="1242" r="4.15"/>
<circle cx="1517" cy="1284" r="4.15"/>
</g>
<g fill="#4a9df6">
<circle cx="1475" cy="290" r="4.15"/>
<circle cx="1475" cy="332" r="4.15"/>
<circle cx="1517" cy="290" r="4.15"/>
<circle cx="1517" cy="332" r="4.15"/>
</g>
<polygon points="159.8,375.7 150.8,397.9 127.0,401.3 112.2,382.3 121.2,360.1 145.0,356.7" fill="none" stroke="#4095ee" stroke-width="3"/>
<polygon points="152.8,376.6 146.5,392.4 129.6,394.8 119.2,381.4 125.5,365.6 142.4,363.2" fill="none" stroke="#4095ee" stroke-width="2"/>
<g font-family="'Liberation Sans',sans-serif" text-anchor="middle" font-size="35" fill="#4a9bf4" stroke="#4a9bf4" stroke-width="0.5">
<text x="408" y="324">1</text>
<text x="680" y="324">2</text>
<text x="952" y="324">3</text>
<text x="1224" y="528">5</text>
<text x="1360" y="528">6</text>
<text x="1496" y="528">7</text>
<text x="1156" y="664">8</text>
<text x="1292" y="664">9</text>
<text x="1428" y="664">10</text>
<text x="476" y="596">A</text>
<text x="544" y="596">B</text>
<text x="1700" y="596">F</text>
<text x="1836" y="596">E</text>
<text x="1700" y="732">C</text>
<text x="1836" y="732">D</text>
<text x="408" y="936">G</text>
<text x="680" y="936">11</text>
<text x="816" y="936">13</text>
<text x="952" y="936">15</text>
<text x="1156" y="1344">17</text>
<text x="476" y="1344">20</text>
<text x="1224" y="324" fill="#f2694a" stroke="#f2694a">4</text>
<text x="1496" y="1276" fill="#f2694a" stroke="#f2694a">H</text>
</g>
<g font-family="'Liberation Sans',sans-serif" text-anchor="middle" font-size="22.3" font-weight="bold" letter-spacing="1.3" fill="#4a9bf4">
<text x="136.65" y="115.2">3-1</text>
<text x="680.65" y="999.2">3-12</text>
<text x="816.65" y="999.2">3-14</text>
<text x="952.65" y="999.2">3-16</text>
<text x="1224.65" y="1339.2">3-18</text>
<text x="1292.65" y="1339.2">3-19</text>
<text x="612.65" y="1407.2">w3</text>
</g>
</g>
<clipPath id="t0"><rect x="0" y="0" width="255" height="350"/></clipPath>
<clipPath id="t1"><rect x="0" y="350" width="255" height="210"/></clipPath>
<clipPath id="t2"><rect x="255" y="0" width="289" height="405"/></clipPath>
<clipPath id="t3"><rect x="544" y="0" width="550" height="340"/></clipPath>
<clipPath id="t4"><rect x="544" y="340" width="56" height="65"/></clipPath>
<clipPath id="t5"><rect x="600" y="340" width="494" height="65"/></clipPath>
<clipPath id="t6"><rect x="1094" y="0" width="206" height="340"/></clipPath>
<clipPath id="t7"><rect x="1094" y="340" width="152" height="65"/></clipPath>
<clipPath id="t8"><rect x="1246" y="340" width="54" height="65"/></clipPath>
<clipPath id="t9"><rect x="1300" y="0" width="672" height="405"/></clipPath>
<clipPath id="t10"><rect x="0" y="560" width="255" height="157"/></clipPath>
<clipPath id="t11"><rect x="255" y="405" width="473" height="312"/></clipPath>
<clipPath id="t12"><rect x="728" y="405" width="366" height="312"/></clipPath>
<clipPath id="t13"><rect x="1094" y="405" width="466" height="312"/></clipPath>
<clipPath id="t14"><rect x="1560" y="405" width="412" height="312"/></clipPath>
<clipPath id="t15"><rect x="0" y="717" width="545" height="260"/></clipPath>
<clipPath id="t16"><rect x="545" y="717" width="549" height="260"/></clipPath>
<clipPath id="t17"><rect x="1094" y="717" width="420" height="192"/></clipPath>
<clipPath id="t18"><rect x="1094" y="909" width="420" height="151"/></clipPath>
<clipPath id="t19"><rect x="1514" y="717" width="458" height="192"/></clipPath>
<clipPath id="t20"><rect x="1514" y="909" width="458" height="151"/></clipPath>
<clipPath id="t21"><rect x="0" y="977" width="391" height="509"/></clipPath>
<clipPath id="t22"><rect x="391" y="977" width="541" height="509"/></clipPath>
<clipPath id="t23"><rect x="932" y="977" width="162" height="509"/></clipPath>
<clipPath id="t24"><rect x="1094" y="1060" width="206" height="426"/></clipPath>
<clipPath id="t25"><rect x="1300" y="1060" width="672" height="426"/></clipPath>
<clipPath id="lc0"><rect x="700" y="360" width="140" height="36.8"/></clipPath>
</defs>
<rect width="100%" height="100%" fill="#fff"/>
<polygon fill="#e5e5e5" points="0,0 1110,0 1110,46 1775,46 1775,385 1972,385 1972,1056 1792,1056 1792,1480 391,1480 391,1406 250.5,1406 250.5,1006 15.5,1006 15.5,596 0,596"/>
<clipPath id="bgc"><polygon points="0,0 1110,0 1110,46 1775,46 1775,385 1972,385 1972,1056 1792,1056 1792,1480 391,1480 391,1406 250.5,1406 250.5,1006 15.5,1006 15.5,596 0,596"/></clipPath>
<g clip-path="url(#bgc)">
<g clip-path="url(#t0)"><use href="#m" transform="translate(0.17 0.35) scale(0.998)"/></g>
<g clip-path="url(#t1)"><use href="#m" transform="translate(0.17 -1.04) scale(0.998)"/></g>
<g clip-path="url(#t2)"><use href="#m" transform="translate(0.02 0.25) scale(0.998)"/></g>
<g clip-path="url(#t3)"><use href="#m" transform="translate(-1.67 0.71) scale(0.998)"/></g>
<g clip-path="url(#t4)"><use href="#m" transform="translate(-1.67 0.71) scale(0.998)"/></g>
<g clip-path="url(#t5)"><use href="#m" transform="translate(0.00 -0.54) scale(0.998)"/></g>
<g clip-path="url(#t6)"><use href="#m" transform="translate(-1.99 0.62) scale(0.998)"/></g>
<g clip-path="url(#t7)"><use href="#m" transform="translate(-0.29 -0.58) scale(0.998)"/></g>
<g clip-path="url(#t8)"><use href="#m" transform="translate(-1.99 1.22) scale(0.998)"/></g>
<g clip-path="url(#t9)"><use href="#m" transform="translate(-1.64 0.55) scale(0.998)"/></g>
<g clip-path="url(#t10)"><use href="#m" transform="translate(0.05 -1.17) scale(0.998)"/></g>
<g clip-path="url(#t11)"><use href="#m" transform="translate(0.05 -1.17) scale(0.998)"/></g>
<g clip-path="url(#t12)"><use href="#m" transform="translate(-1.07 1.53) scale(0.998)"/></g>
<g clip-path="url(#t13)"><use href="#m" transform="translate(-1.65 1.27) scale(0.998)"/></g>
<g clip-path="url(#t14)"><use href="#m" transform="translate(-1.49 1.53) scale(0.998)"/></g>
<g clip-path="url(#t15)"><use href="#m" transform="translate(-1.28 -0.69) scale(0.998)"/></g>
<g clip-path="url(#t16)"><use href="#m" transform="translate(-1.53 -0.69) scale(0.998)"/></g>
<g clip-path="url(#t17)"><use href="#m" transform="translate(-1.55 -0.93) scale(0.998)"/></g>
<g clip-path="url(#t18)"><use href="#m" transform="translate(-1.55 -1.35) scale(0.998)"/></g>
<g clip-path="url(#t19)"><use href="#m" transform="translate(-1.54 1.17) scale(0.998)"/></g>
<g clip-path="url(#t20)"><use href="#m" transform="translate(-1.74 -1.65) scale(0.998)"/></g>
<g clip-path="url(#t21)"><use href="#m" transform="translate(-1.42 -0.62) scale(0.998)"/></g>
<g clip-path="url(#t22)"><use href="#m" transform="translate(-2.05 -2.47) scale(0.998)"/></g>
<g clip-path="url(#t23)"><use href="#m" transform="translate(-1.05 -1.71) scale(0.998)"/></g>
<g clip-path="url(#t24)"><use href="#m" transform="translate(-1.05 -1.71) scale(0.998)"/></g>
<g clip-path="url(#t25)"><use href="#m" transform="translate(-0.87 -1.47) scale(0.998)"/></g>
</g>
<g style="opacity:.996">
<g clip-path="url(#lc0)"><text x="733" y="398.9" font-family="'Liberation Sans',sans-serif" font-size="20" fill="#adadad" textLength="46" lengthAdjust="spacing">/w0/</text><text x="782.5" y="398.9" font-family="'Liberation Sans',sans-serif" font-size="20" fill="#595956" textLength="26" lengthAdjust="spacing">w3</text></g>
<text x="258" y="733.5" font-family="'Liberation Sans',sans-serif" font-size="20" fill="#adadad" textLength="46" lengthAdjust="spacing">/w0/</text><text x="307.5" y="733.5" font-family="'Liberation Sans',sans-serif" font-size="20" fill="#595956" textLength="26" lengthAdjust="spacing">w3</text>
<text x="393.3" y="1004" font-family="'Liberation Sans',sans-serif" font-size="20" fill="#adadad" textLength="46" lengthAdjust="spacing">/w0/</text><text x="442.8" y="1004" font-family="'Liberation Sans',sans-serif" font-size="20" fill="#595956" textLength="26" lengthAdjust="spacing">w3</text>
<text x="937" y="936.5" font-family="'Liberation Sans',sans-serif" font-size="20" fill="#adadad" textLength="46" lengthAdjust="spacing">/w0/</text><text x="986.5" y="936.5" font-family="'Liberation Sans',sans-serif" font-size="20" fill="#595956" textLength="26" lengthAdjust="spacing">w3</text>
</g>
</svg>
</body></html>
